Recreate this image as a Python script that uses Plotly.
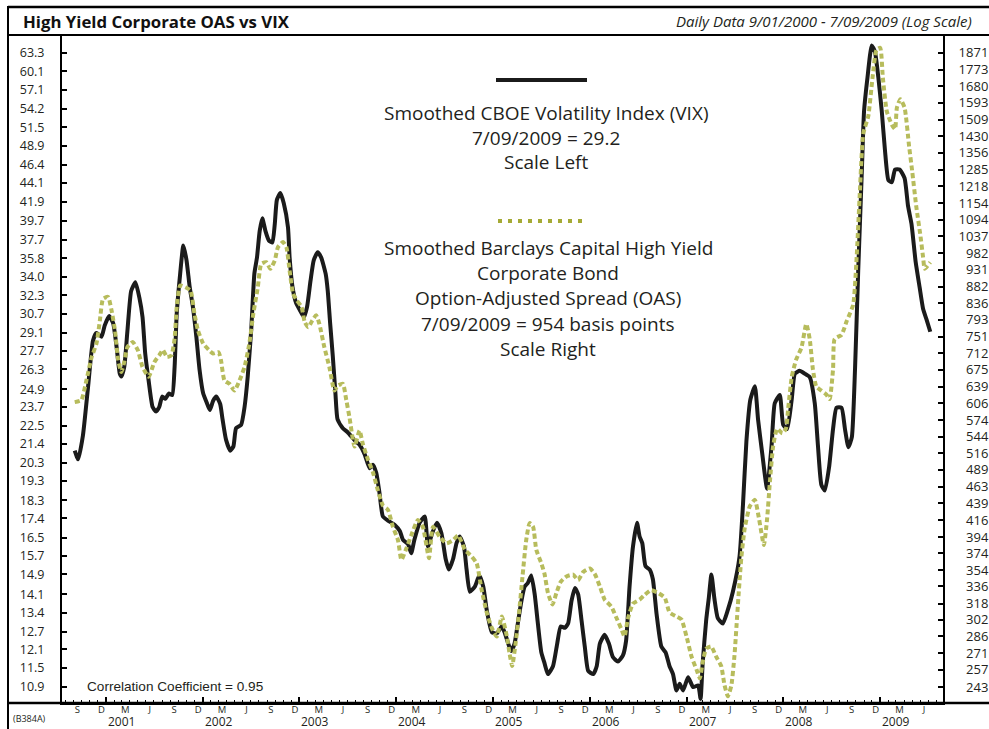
import plotly.graph_objects as go

# ---------------- data ----------------
VIX_DATES = [
    "2000-09-05", "2000-09-18", "2000-10-06", "2000-10-25", "2000-11-13", "2000-11-26", "2000-12-15", "2000-12-27",
    "2001-01-13", "2001-01-28", "2001-02-10", "2001-02-22", "2001-02-28", "2001-03-11", "2001-03-23", "2001-04-06",
    "2001-04-22", "2001-05-07", "2001-05-19", "2001-05-29", "2001-06-11", "2001-06-26", "2001-07-09", "2001-07-21",
    "2001-08-01", "2001-08-13", "2001-08-26", "2001-09-08", "2001-09-17", "2001-09-25", "2001-10-08", "2001-10-20",
    "2001-11-01", "2001-11-13", "2001-11-25", "2001-12-08", "2001-12-20", "2002-01-03", "2002-01-16", "2002-01-28",
    "2002-02-09", "2002-02-21", "2002-03-08", "2002-03-17", "2002-03-30", "2002-04-15", "2002-04-27", "2002-05-07",
    "2002-05-26", "2002-06-08", "2002-06-20", "2002-07-03", "2002-07-15", "2002-07-25", "2002-08-04", "2002-08-14",
    "2002-08-26", "2002-09-08", "2002-09-21", "2002-09-30", "2002-10-08", "2002-10-21", "2002-11-03", "2002-11-19",
    "2002-11-25", "2002-12-06", "2002-12-20", "2003-01-03", "2003-01-18", "2003-01-30", "2003-02-12", "2003-02-24",
    "2003-03-11", "2003-03-24", "2003-04-10", "2003-04-18", "2003-04-27", "2003-05-07", "2003-05-17", "2003-05-25",
    "2003-06-14", "2003-07-02", "2003-07-21", "2003-08-01", "2003-08-16", "2003-09-04", "2003-09-23", "2003-10-05",
    "2003-10-18", "2003-10-30", "2003-11-12", "2003-12-01", "2003-12-26", "2004-01-15", "2004-01-27", "2004-02-15",
    "2004-02-27", "2004-03-10", "2004-03-30", "2004-04-18", "2004-04-30", "2004-05-16", "2004-06-03", "2004-06-20",
    "2004-07-06", "2004-07-18", "2004-08-03", "2004-08-16", "2004-08-28", "2004-09-13", "2004-09-23", "2004-10-05",
    "2004-10-24", "2004-11-10", "2004-11-25", "2004-12-08", "2004-12-27", "2005-01-15", "2005-02-03", "2005-02-15",
    "2005-02-27", "2005-03-10", "2005-03-23", "2005-04-05", "2005-04-18", "2005-04-30", "2005-05-12", "2005-05-25",
    "2005-06-07", "2005-06-19", "2005-07-02", "2005-07-14", "2005-07-27", "2005-08-15", "2005-08-31", "2005-09-13",
    "2005-09-29", "2005-10-11", "2005-10-24", "2005-11-06", "2005-11-18", "2005-12-01", "2005-12-13", "2005-12-26",
    "2006-01-14", "2006-01-27", "2006-02-08", "2006-02-26", "2006-03-14", "2006-03-29", "2006-04-17", "2006-05-06",
    "2006-05-18", "2006-05-31", "2006-06-13", "2006-06-28", "2006-07-08", "2006-07-18", "2006-07-30", "2006-08-15",
    "2006-08-27", "2006-09-10", "2006-09-28", "2006-10-14", "2006-10-29", "2006-11-11", "2006-11-24", "2006-12-06",
    "2006-12-19", "2007-01-07", "2007-01-26", "2007-02-14", "2007-02-23", "2007-03-03", "2007-03-16", "2007-03-26",
    "2007-04-05", "2007-04-16", "2007-04-29", "2007-05-18", "2007-06-06", "2007-06-25", "2007-07-20", "2007-08-02",
    "2007-08-15", "2007-08-30", "2007-09-16", "2007-09-28", "2007-10-14", "2007-11-01", "2007-11-18", "2007-11-30",
    "2007-12-19", "2008-01-01", "2008-01-16", "2008-02-02", "2008-02-14", "2008-03-03", "2008-03-22", "2008-04-10",
    "2008-04-29", "2008-05-11", "2008-05-24", "2008-06-06", "2008-06-22", "2008-07-07", "2008-07-20", "2008-08-08",
    "2008-08-21", "2008-09-03", "2008-09-16", "2008-09-28", "2008-10-10", "2008-10-23", "2008-11-01", "2008-11-14",
    "2008-11-30", "2008-12-12", "2008-12-25", "2009-01-07", "2009-01-19", "2009-02-01", "2009-02-14", "2009-02-26",
    "2009-03-15", "2009-04-03", "2009-04-16", "2009-04-29", "2009-05-15", "2009-05-30", "2009-06-12", "2009-06-25",
    "2009-07-09",
]
VIX_VALUES = [
    21.0, 20.5, 21.9, 25.0, 28.5, 29.1, 28.8, 29.7,
    30.5, 29.9, 28.0, 26.0, 25.8, 26.5, 29.3, 32.7,
    33.5, 32.1, 30.4, 27.5, 25.5, 23.7, 23.4, 23.7,
    24.4, 24.25, 24.6, 24.5, 26.5, 30.7, 34.3, 37.1,
    35.6, 33.05, 31.3, 28.8, 26.3, 24.6, 24.0, 23.5,
    24.1, 24.4, 23.9, 22.9, 21.65, 21.0, 21.25, 22.35,
    22.55, 23.7, 25.8, 29.3, 34.3, 35.9, 38.6, 40.0,
    38.6, 37.6, 37.4, 39.35, 42.1, 42.9, 41.7, 39.0,
    35.9, 33.05, 31.6, 31.0, 30.4, 31.3, 33.65, 35.6,
    36.4, 35.9, 34.3, 32.7, 29.9, 27.3, 24.6, 22.9,
    22.35, 22.1, 21.75, 21.55, 21.35, 20.8, 20.0, 20.2,
    19.75, 18.7, 17.5, 17.3, 17.1, 16.8, 16.4, 16.2,
    15.8, 16.4, 17.2, 17.5, 16.1, 16.7, 17.2, 16.7,
    15.55, 15.1, 15.55, 16.25, 16.55, 16.1, 15.1, 14.2,
    14.4, 14.85, 14.4, 13.5, 12.7, 12.65, 12.9, 12.65,
    12.3, 12.05, 12.3, 13.05, 13.85, 14.4, 14.55, 14.85,
    14.1, 13.0, 12.0, 11.65, 11.3, 11.55, 12.3, 12.9,
    12.85, 13.0, 13.85, 14.35, 14.1, 13.1, 12.2, 11.4,
    11.3, 11.55, 12.3, 12.6, 12.3, 11.85, 11.7, 11.9,
    12.4, 14.4, 16.1, 17.2, 16.55, 16.25, 15.25, 15.1,
    14.7, 13.35, 12.2, 12.0, 11.55, 11.3, 10.8, 11.0,
    10.8, 11.2, 10.9, 10.95, 10.55, 11.65, 13.1, 13.95,
    14.9, 13.95, 13.2, 13.0, 13.5, 14.2, 15.65, 18.05,
    21.55, 24.2, 25.1, 22.9, 20.8, 18.9, 21.3, 23.95,
    24.5, 22.55, 22.3, 24.2, 26.0, 26.2, 26.0, 25.75,
    23.95, 21.3, 19.1, 18.8, 20.05, 22.3, 23.65, 23.65,
    22.3, 21.2, 21.8, 26.35, 34.6, 44.95, 53.8, 59.1,
    64.6, 63.5, 59.1, 53.8, 48.3, 44.45, 44.2, 45.8,
    45.8, 44.7, 41.4, 39.4, 35.4, 33.0, 31.1, 30.2,
    29.2,
]

OAS_DATES = [
    "2000-09-05", "2000-09-30", "2000-10-19", "2000-11-08", "2000-11-26", "2000-12-09", "2000-12-21", "2001-01-09",
    "2001-01-22", "2001-02-04", "2001-02-16", "2001-02-28", "2001-03-11", "2001-03-23", "2001-04-12", "2001-05-01",
    "2001-05-19", "2001-06-11", "2001-07-03", "2001-07-21", "2001-08-04", "2001-08-19", "2001-09-05", "2001-09-17",
    "2001-09-25", "2001-10-08", "2001-10-28", "2001-11-16", "2001-12-01", "2001-12-14", "2002-01-03", "2002-01-25",
    "2002-02-09", "2002-03-02", "2002-03-11", "2002-03-24", "2002-04-12", "2002-05-01", "2002-05-20", "2002-06-08",
    "2002-06-26", "2002-07-11", "2002-07-28", "2002-08-10", "2002-08-29", "2002-09-13", "2002-09-30", "2002-10-12",
    "2002-10-31", "2002-11-13", "2002-11-25", "2002-12-08", "2002-12-23", "2003-01-09", "2003-01-21", "2003-02-03",
    "2003-02-19", "2003-03-05", "2003-03-17", "2003-04-05", "2003-04-24", "2003-05-13", "2003-05-25", "2003-06-14",
    "2003-06-27", "2003-07-09", "2003-07-28", "2003-08-16", "2003-08-28", "2003-09-17", "2003-10-05", "2003-10-24",
    "2003-11-12", "2003-12-01", "2003-12-20", "2004-01-08", "2004-01-21", "2004-02-09", "2004-02-27", "2004-03-23",
    "2004-04-11", "2004-05-04", "2004-05-19", "2004-06-14", "2004-07-09", "2004-08-03", "2004-08-22", "2004-09-17",
    "2004-10-12", "2004-10-31", "2004-11-19", "2004-12-08", "2004-12-27", "2005-01-15", "2005-02-03", "2005-02-22",
    "2005-03-04", "2005-03-14", "2005-03-27", "2005-04-09", "2005-04-22", "2005-05-06", "2005-05-19", "2005-06-01",
    "2005-06-13", "2005-07-02", "2005-07-14", "2005-07-27", "2005-08-13", "2005-08-28", "2005-09-13", "2005-10-05",
    "2005-10-30", "2005-11-18", "2005-12-07", "2006-01-02", "2006-01-21", "2006-02-08", "2006-02-26", "2006-03-23",
    "2006-04-11", "2006-04-30", "2006-05-12", "2006-05-24", "2006-06-13", "2006-07-08", "2006-07-27", "2006-08-21",
    "2006-09-16", "2006-10-11", "2006-10-29", "2006-11-24", "2006-12-13", "2007-01-01", "2007-01-20", "2007-02-08",
    "2007-02-20", "2007-03-03", "2007-03-16", "2007-04-04", "2007-04-23", "2007-05-12", "2007-05-24", "2007-06-06",
    "2007-06-19", "2007-07-01", "2007-07-14", "2007-07-27", "2007-08-09", "2007-08-28", "2007-09-16", "2007-10-02",
    "2007-10-20", "2007-11-01", "2007-11-12", "2007-11-24", "2007-12-09", "2007-12-29", "2008-01-11", "2008-01-20",
    "2008-02-02", "2008-02-18", "2008-03-10", "2008-03-28", "2008-04-10", "2008-04-22", "2008-05-05", "2008-05-24",
    "2008-06-12", "2008-06-24", "2008-07-07", "2008-07-13", "2008-08-08", "2008-08-27", "2008-09-21", "2008-10-04",
    "2008-10-16", "2008-10-29", "2008-11-17", "2008-12-03", "2008-12-18", "2009-01-01", "2009-01-11", "2009-01-26",
    "2009-02-14", "2009-02-26", "2009-03-05", "2009-03-18", "2009-04-03", "2009-04-20", "2009-05-02", "2009-05-17",
    "2009-06-02", "2009-06-12", "2009-06-18", "2009-07-09",
]
OAS_VALUES = [
    608, 612, 652, 703, 734, 791, 848, 853,
    817, 766, 696, 670, 692, 726, 738, 719,
    681, 660, 692, 707, 719, 703, 707, 746,
    826, 885, 880, 871, 808, 766, 734, 719,
    711, 714, 696, 652, 645, 631, 652, 681,
    734, 808, 880, 949, 954, 934, 959, 1001,
    1018, 1001, 929, 862, 843, 826, 787, 774,
    791, 804, 783, 726, 681, 631, 641, 645,
    612, 579, 527, 555, 532, 505, 486, 458,
    436, 430, 407, 390, 366, 380, 396, 416,
    407, 368, 407, 394, 386, 390, 396, 378,
    370, 362, 332, 309, 294, 286, 305, 286,
    271, 260, 280, 309, 347, 390, 412, 407,
    378, 362, 350, 329, 317, 329, 341, 347,
    349, 343, 352, 356, 349, 336, 322, 315,
    304, 293, 286, 302, 318, 322, 327, 332,
    329, 324, 309, 305, 302, 286, 268, 257,
    250, 263, 275, 277, 268, 260, 245, 236,
    244, 269, 317, 369, 406, 435, 444, 417,
    384, 417, 472, 528, 558, 550, 558, 597,
    659, 696, 725, 782, 745, 676, 639, 631,
    623, 614, 676, 745, 755, 788, 832, 968,
    1191, 1443, 1526, 1727, 1889, 1902, 1727, 1549,
    1485, 1464, 1569, 1612, 1569, 1386, 1276, 1142,
    1038, 968, 934, 954,
]

LEFT_TICKS = [63.3, 60.1, 57.1, 54.2, 51.5, 48.9, 46.4, 44.1, 41.9, 39.7, 37.7, 35.8, 34.0, 32.3, 30.7, 29.1, 27.7, 26.3,
              24.9, 23.7, 22.5, 21.4, 20.3, 19.3, 18.3, 17.4, 16.5, 15.7, 14.9, 14.1, 13.4, 12.7, 12.1, 11.5, 10.9]
RIGHT_TICKS = [1871, 1773, 1680, 1593, 1509, 1430, 1356, 1285, 1218, 1154, 1094, 1037, 982, 931, 882, 836, 793, 751, 712,
               675, 639, 606, 574, 544, 516, 489, 463, 439, 416, 394, 374, 354, 336, 318, 302, 286, 271, 257, 243]
MONTH_LETTERS = {3: "M", 6: "J", 9: "S", 12: "D"}
YEARS = list(range(2001, 2010))

TITLE = "High Yield Corporate OAS vs VIX"
SUBTITLE = "Daily Data 9/01/2000 - 7/09/2009 (Log Scale)"
VIX_LEGEND = ["Smoothed CBOE Volatility Index (VIX)", "7/09/2009 = 29.2", "Scale Left"]
OAS_LEGEND = ["Smoothed Barclays Capital High Yield", "Corporate Bond", "Option-Adjusted Spread (OAS)",
              "7/09/2009 = 954 basis points", "Scale Right"]
CORR_TEXT = "Correlation Coefficient = 0.95"
CODE_TEXT = "(B384A)"

# ---------------- style ----------------
TEXT = "#231f20"
VIX_COLOR = "#1b1b1b"
OAS_COLOR = "#b7bc5c"
OAS_LEGEND_COLOR = "#a5aa35"
FONT = "Open Sans, DejaVu Sans, sans-serif"

# month label ticks (mid-month) and year boundary ticks
month_ticks, month_text = [], []
yy, mm = 2000, 9
while (yy, mm) <= (2009, 6):
    month_ticks.append(f"{yy}-{mm:02d}-15")
    month_text.append(MONTH_LETTERS[mm])
    mm += 3
    if mm > 12:
        mm -= 12
        yy += 1
year_starts = [f"{y}-01-01" for y in YEARS]

fig = go.Figure()
fig.add_trace(go.Scatter(
    x=OAS_DATES, y=OAS_VALUES, xaxis="x2", yaxis="y2", mode="lines",
    line=dict(color=OAS_COLOR, width=4, dash="5px,3px", shape="spline", smoothing=0.5),
    hoverinfo="skip", showlegend=False))
fig.add_trace(go.Scatter(
    x=VIX_DATES, y=VIX_VALUES, mode="lines",
    line=dict(color=VIX_COLOR, width=4, shape="spline", smoothing=0.5),
    hoverinfo="skip", showlegend=False))

X_RANGE = ["2000-07-19", "2009-08-26"]

fig.update_layout(
    width=989, height=729,
    margin=dict(l=62, r=46, t=35, b=26, autoexpand=False),
    paper_bgcolor="white", plot_bgcolor="white",
    showlegend=False,
    font=dict(family=FONT, color=TEXT),
    xaxis=dict(
        type="date", range=X_RANGE, tickmode="array", tickvals=month_ticks, ticktext=month_text,
        ticks="", showgrid=False, zeroline=False, showline=True, linecolor="black", linewidth=2,
        tickfont=dict(family=FONT, size=9.5, color=TEXT), ticklabelstandoff=-3, automargin=False,
        minor=dict(tickmode="linear", tick0="2000-08-01", dtick="M1", ticks="inside", ticklen=3,
                   tickwidth=1, tickcolor="black", showgrid=False),
    ),
    xaxis2=dict(
        type="date", overlaying="x", matches="x", anchor="y2", side="bottom", automargin=False,
        tickmode="array", tickvals=year_starts, ticks="inside", ticklen=6, tickwidth=1.5,
        tickcolor="black", showticklabels=False, showgrid=False, zeroline=False, showline=False,
    ),
    yaxis=dict(
        type="log", range=[1.0183, 1.8228], tickmode="array", tickvals=LEFT_TICKS,
        ticktext=[f"{v:.1f}" for v in LEFT_TICKS], ticks="inside", ticklen=5, tickwidth=1.5,
        tickcolor="black", showline=True, linecolor="black", linewidth=2, showgrid=False,
        zeroline=False, tickfont=dict(family=FONT, size=12.5, color=TEXT), ticklabelstandoff=13,
        automargin=False,
    ),
    yaxis2=dict(
        type="log", overlaying="y", side="right", anchor="x2", range=[2.3634, 3.2971],
        tickmode="array", tickvals=RIGHT_TICKS,
        ticktext=[str(v).rjust(4, "\u2007") for v in RIGHT_TICKS],
        ticks="inside", ticklen=5, tickwidth=1.5, tickcolor="black", showline=True,
        linecolor="black", linewidth=2, showgrid=False, zeroline=False,
        tickfont=dict(family=FONT, size=13, color=TEXT), ticklabelstandoff=11, automargin=False,
    ),
)

# frame decoration (paper coordinates)
W, H = 881.0, 668.0
def px(xp):
    return (xp - 62) / W
def py(yp):
    return (703 - yp) / H

shapes = [
    dict(type="line", xref="paper", yref="paper", x0=px(8), x1=px(992), y0=py(7), y1=py(7),
         line=dict(color="black", width=2.5)),
    dict(type="line", xref="paper", yref="paper", x0=px(8), x1=px(992), y0=py(35), y1=py(35),
         line=dict(color="black", width=2)),
    dict(type="line", xref="paper", yref="paper", x0=px(8), x1=px(992), y0=py(703), y1=py(703),
         line=dict(color="black", width=2.5)),
    dict(type="line", xref="paper", yref="paper", x0=px(8), x1=px(8), y0=py(6), y1=py(732),
         line=dict(color="black", width=2)),
    # legend samples
    dict(type="line", xref="paper", yref="paper", x0=px(496), x1=px(587), y0=py(80), y1=py(80),
         line=dict(color=VIX_COLOR, width=4)),
    dict(type="line", xref="paper", yref="paper", x0=px(498), x1=px(588), y0=py(221), y1=py(221),
         line=dict(color=OAS_LEGEND_COLOR, width=4, dash="4px,6px")),
]
fig.update_layout(shapes=shapes)

ann = []
ann.append(dict(text=f"<b>{TITLE}</b>", x=px(21), y=py(21), xref="paper", yref="paper",
                xanchor="left", yanchor="middle", showarrow=False,
                font=dict(family=FONT, size=16.8, color="#111111")))
ann.append(dict(text=f"<i>{SUBTITLE}</i>", x=px(974), y=py(21), xref="paper", yref="paper",
                xanchor="right", yanchor="middle", showarrow=False,
                font=dict(family=FONT, size=15, color=TEXT)))
for i, line in enumerate(VIX_LEGEND):
    ann.append(dict(text=line, x=px(546), y=py(113 + 24.5 * i), xref="paper", yref="paper",
                    xanchor="center", yanchor="middle", showarrow=False,
                    font=dict(family=FONT, size=19, color=TEXT)))
for i, line in enumerate(OAS_LEGEND):
    ann.append(dict(text=line, x=px(548), y=py(248 + 25.2 * i), xref="paper", yref="paper",
                    xanchor="center", yanchor="middle", showarrow=False,
                    font=dict(family=FONT, size=19, color=TEXT)))
ann.append(dict(text=CORR_TEXT, x=px(85), y=py(686), xref="paper", yref="paper",
                xanchor="left", yanchor="middle", showarrow=False,
                font=dict(family="Liberation Sans, Arial, sans-serif", size=13.6, color=TEXT)))
ann.append(dict(text=CODE_TEXT, x=px(11), y=py(718), xref="paper", yref="paper",
                xanchor="left", yanchor="middle", showarrow=False,
                font=dict(family=FONT, size=9, color=TEXT)))
for y, xs in zip(YEARS, year_starts):
    ann.append(dict(text=str(y), x=xs, y=py(721.5), xref="x", yref="paper",
                    xanchor="left", yanchor="middle", showarrow=False,
                    font=dict(family=FONT, size=12, color=TEXT)))
fig.update_layout(annotations=ann)

fig.write_html("out.html")
